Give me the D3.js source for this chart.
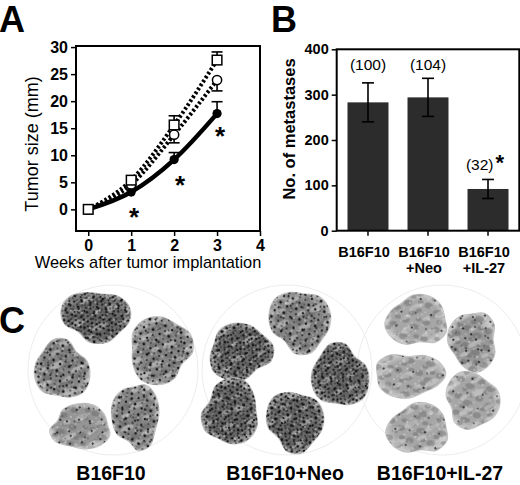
<!DOCTYPE html>
<html>
<head>
<meta charset="utf-8">
<script src="https://cdn.jsdelivr.net/npm/d3@7"></script>
<style>
  body { margin: 0; background: white; }
  text { font-family: 'Liberation Sans', Arial, Helvetica, sans-serif; }
</style>
</head>
<body>
<script>
// ---- panel A: tumour size over time ----
var weeks = [0, 1, 2, 3];
var sizeParental = [0, 5.4, 15.6, 27.6];
var sizeNeo = [0, 4.6, 13.8, 23.9];
var sizeIL27 = [0, 3.2, 9.2, 17.7];
var errParental = [0, 0, 1.7, 1.5];   // drawn upward
var errNeo = [0, 0, 1.5, 2.0];        // drawn downward
var errIL27 = [0, 0, 1.3, 2.2];       // drawn upward
var starWeek = [1.07, 2.14, 3.07];
var starSize = [-0.4, 5.4, 14.5];
var weekTicks = [0, 1, 2, 3, 4];
var sizeTicks = [0, 5, 10, 15, 20, 25, 30];

// ---- panel B: lung metastases ----
var groupLines = [['B16F10'], ['B16F10', '+Neo'], ['B16F10', '+IL-27']];
var metastases = [283, 294, 92];
var metastasesErr = [43, 42, 21];
var percentLabels = ['(100)', '(104)', '(32)'];
var percentAt = [355, 355, 133];
var metTicks = [0, 100, 200, 300, 400];

// ---- panel C: lung photographs (sketched) ----
var plateNames = ['B16F10', 'B16F10+Neo', 'B16F10+IL-27'];
var plateCx = [113, 287, 442];
// one row per lung: plate, x offset, y offset, rx, ry, rotation, load
var lungPlate = [0, 0, 0, 0, 0, 1, 1, 1, 1, 1, 2, 2, 2, 2, 2];
var lungDx = [-17, 47, -51, -32, 23, 13, -47, 53, -56, 8, -25, 31, -33, 30, -24];
var lungDy = [-54, -20, 0, 57, 46, -49, -18, 6, 42, 51, -49, -29, 5, 30, 59];
var lungRx = [34, 32, 27, 31, 23, 30, 32, 28, 29, 28, 30, 25, 34, 27, 30];
var lungRy = [26, 33, 30, 22, 34, 32, 28, 32, 32, 31, 26, 29, 23, 28, 26];
var lungRot = [0.2, 1.1, 2.3, 3.0, 4.1, 0.7, 1.9, 2.8, 3.6, 5.0, 0.4, 1.5, 2.6, 3.3, 4.6];
var lungLoad = ['heavy', 'medium', 'medium', 'light', 'medium',
                'medium', 'heavy', 'heavy', 'heavy', 'heavy',
                'sparse', 'some', 'sparse', 'sparse', 'sparse'];

var wW = 520;
var wH = 485;

// root svg canvas
var svg = d3.select('body').append('svg:svg')
  .attr('width', wW)
  .attr('height', wH);

var defs = svg.append('defs');

var panelLetter = (x, y, letter) => {
  svg.append('text')
    .attr('x', x)
    .attr('y', y)
    .attr('font-size', 36)
    .attr('font-weight', 'bold')
    .text(letter);
};

var styleAxis = (g, size) => {
  g.select('.domain').remove();
  g.selectAll('.tick line').attr('stroke', 'black').attr('stroke-width', 1.5);
  g.selectAll('.tick text')
    .attr('fill', 'black')
    .attr('font-size', size)
    .attr('font-weight', 'bold')
    .attr('font-family', "'Liberation Sans', Arial, sans-serif");
};

/**
 * Panel A
 */
var drawPanelA = () => {
  panelLetter(-1, 32, 'A');

  var x = d3.scaleLinear().domain([-0.285, 4]).range([76, 260]);
  var y = d3.scaleLinear().domain([-4, 30.2]).range([231, 46]);

  var gx = svg.append('g')
    .attr('transform', 'translate(0,' + y(-4) + ')')
    .call(d3.axisBottom(x).tickValues(weekTicks).tickSize(5).tickPadding(4).tickFormat(d3.format('d')));
  styleAxis(gx, 16);

  var gy = svg.append('g')
    .attr('transform', 'translate(' + x(-0.285) + ',0)')
    .call(d3.axisLeft(y).tickValues(sizeTicks).tickSize(5).tickPadding(3));
  styleAxis(gy, 16);

  svg.append('rect')
    .attr('x', x(-0.285))
    .attr('y', y(30.2))
    .attr('width', x(4) - x(-0.285))
    .attr('height', y(-4) - y(30.2))
    .attr('fill', 'none')
    .attr('stroke', 'black')
    .attr('stroke-width', 2);

  svg.append('text')
    .attr('transform', 'translate(38,144) rotate(-90)')
    .attr('text-anchor', 'middle')
    .attr('font-size', 18)
    .text('Tumor size (mm)');

  svg.append('text')
    .attr('x', 148)
    .attr('y', 268)
    .attr('text-anchor', 'middle')
    .attr('font-size', 16.4)
    .text('Weeks after tumor implantation');

  var line = d3.line()
    .x((d, i) => x(weeks[i]))
    .y(d => y(d))
    .curve(d3.curveMonotoneX);

  svg.append('path')
    .attr('d', line(sizeParental))
    .attr('fill', 'none')
    .attr('stroke', 'black')
    .attr('stroke-width', 4)
    .attr('stroke-dasharray', '2.5,2.2');

  svg.append('path')
    .attr('d', line(sizeNeo))
    .attr('fill', 'none')
    .attr('stroke', 'black')
    .attr('stroke-width', 4)
    .attr('stroke-dasharray', '2.5,2.2');

  svg.append('path')
    .attr('d', line(sizeIL27))
    .attr('fill', 'none')
    .attr('stroke', 'black')
    .attr('stroke-width', 4.5);

  // error bars (one-sided)
  var errorBar = (values, errs, sign) => {
    values.forEach((v, i) => {
      if (!errs[i]) return;
      var xc = x(weeks[i]);
      var yEnd = y(v + sign * errs[i]);
      svg.append('line')
        .attr('x1', xc).attr('x2', xc)
        .attr('y1', y(v)).attr('y2', yEnd)
        .attr('stroke', 'black').attr('stroke-width', 1.6);
      svg.append('line')
        .attr('x1', xc - 5.5).attr('x2', xc + 5.5)
        .attr('y1', yEnd).attr('y2', yEnd)
        .attr('stroke', 'black').attr('stroke-width', 1.6);
    });
  };
  errorBar(sizeParental, errParental, 1);
  errorBar(sizeNeo, errNeo, -1);
  errorBar(sizeIL27, errIL27, 1);

  // markers
  sizeIL27.forEach((v, i) => {
    svg.append('circle')
      .attr('cx', x(weeks[i])).attr('cy', y(v)).attr('r', 4.6)
      .attr('fill', 'black');
  });
  sizeNeo.forEach((v, i) => {
    svg.append('circle')
      .attr('cx', x(weeks[i])).attr('cy', y(v)).attr('r', 4.6)
      .attr('fill', 'white').attr('stroke', 'black').attr('stroke-width', 1.5);
  });
  sizeParental.forEach((v, i) => {
    svg.append('rect')
      .attr('x', x(weeks[i]) - 4.8).attr('y', y(v) - 4.8)
      .attr('width', 9.6).attr('height', 9.6)
      .attr('fill', 'white').attr('stroke', 'black').attr('stroke-width', 1.5);
  });

  // significance stars
  starWeek.forEach((w, i) => {
    svg.append('text')
      .attr('x', x(w))
      .attr('y', y(starSize[i]) + 14)
      .attr('text-anchor', 'middle')
      .attr('font-size', 26)
      .attr('font-weight', 'bold')
      .text('*');
  });
};

/**
 * Panel B
 */
var drawPanelB = () => {
  panelLetter(271, 32, 'B');

  var x = d3.scaleBand()
    .domain(d3.range(metastases.length))
    .range([336.7, 519.3])
    .paddingInner(0.317)
    .paddingOuter(0.18);
  var y = d3.scaleLinear().domain([0, 400]).range([230.7, 49.3]);

  var gy = svg.append('g')
    .attr('transform', 'translate(336.7,0)')
    .call(d3.axisLeft(y).tickValues(metTicks).tickSize(5).tickPadding(3));
  styleAxis(gy, 14.5);

  // bottom ticks at bar centres
  metastases.forEach((v, i) => {
    var xc = x(i) + x.bandwidth() / 2;
    svg.append('line')
      .attr('x1', xc).attr('x2', xc)
      .attr('y1', y(0)).attr('y2', y(0) + 5)
      .attr('stroke', 'black').attr('stroke-width', 1.5);
    groupLines[i].forEach((t, j) => {
      svg.append('text')
        .attr('x', xc - 4)
        .attr('y', 256.5 + j * 16.5)
        .attr('text-anchor', 'middle')
        .attr('font-size', 14.5)
        .attr('font-weight', 'bold')
        .text(t);
    });
  });

  svg.selectAll('rect.bar')
    .data(metastases)
    .enter().append('rect')
    .attr('class', 'bar')
    .attr('x', (d, i) => x(i))
    .attr('y', d => y(d))
    .attr('width', x.bandwidth())
    .attr('height', d => y(0) - y(d))
    .attr('fill', '#2c2c2c');

  metastases.forEach((v, i) => {
    var xc = x(i) + x.bandwidth() / 2;
    var lo = y(v - metastasesErr[i]);
    var hi = y(v + metastasesErr[i]);
    svg.append('line')
      .attr('x1', xc).attr('x2', xc).attr('y1', lo).attr('y2', hi)
      .attr('stroke', 'black').attr('stroke-width', 1.6);
    [lo, hi].forEach((yy) => {
      svg.append('line')
        .attr('x1', xc - 6).attr('x2', xc + 6).attr('y1', yy).attr('y2', yy)
        .attr('stroke', 'black').attr('stroke-width', 1.6);
    });

    var label = svg.append('text')
      .attr('x', xc - (i == 2 ? 3 : 0))
      .attr('y', y(percentAt[i]))
      .attr('text-anchor', 'middle')
      .attr('font-size', 15.5);
    label.append('tspan').text(percentLabels[i]);
    if (i == 2) {
      label.append('tspan')
        .attr('dx', 2)
        .attr('font-size', 22)
        .attr('font-weight', 'bold')
        .text('*');
    }
  });

  svg.append('rect')
    .attr('x', 336.7)
    .attr('y', y(400))
    .attr('width', 519.3 - 336.7)
    .attr('height', y(0) - y(400))
    .attr('fill', 'none')
    .attr('stroke', 'black')
    .attr('stroke-width', 2);

  svg.append('text')
    .attr('transform', 'translate(295,129) rotate(-90)')
    .attr('text-anchor', 'middle')
    .attr('font-size', 16.5)
    .attr('font-weight', 'bold')
    .text('No. of metastases');
};

/**
 * Panel C: textures for the lung sketches
 */
var makePatterns = () => {
  var spots = (id, w, h, rot, dots, colour) => {
    var p = defs.append('pattern')
      .attr('id', id)
      .attr('patternUnits', 'userSpaceOnUse')
      .attr('patternTransform', 'rotate(' + rot + ')')
      .attr('width', w).attr('height', h);
    dots.forEach((d) => {
      p.append('circle')
        .attr('cx', d[0]).attr('cy', d[1]).attr('r', d[2])
        .attr('fill', colour);
    });
  };
  spots('spotsA', 9, 8, 23, [[1.5, 2, 1.1], [6, 1, 0.8], [4, 5.5, 1.3], [8, 6, 0.7], [2, 7, 0.6]], '#111');
  spots('spotsB', 13, 11, -17, [[3, 3, 1.2], [9, 2, 0.9], [11, 8, 1.4], [5, 9, 0.8], [7, 6, 0.6]], '#151515');
  spots('spotsC', 17, 15, 41, [[4, 4, 1.0], [12, 10, 0.9], [14, 3, 0.6]], '#111');
  spots('spotsD', 23, 19, -33, [[6, 5, 0.9], [17, 14, 0.8]], '#111');
  spots('glint', 11, 13, 12, [[2, 3, 0.7], [8, 9, 0.6], [5, 12, 0.5]], '#f0f0f0');

  var blotch = (id, w, h, rot, shapes, colour, op) => {
    var p = defs.append('pattern')
      .attr('id', id)
      .attr('patternUnits', 'userSpaceOnUse')
      .attr('patternTransform', 'rotate(' + rot + ')')
      .attr('width', w).attr('height', h);
    shapes.forEach((e) => {
      p.append('ellipse')
        .attr('cx', e[0]).attr('cy', e[1]).attr('rx', e[2]).attr('ry', e[3])
        .attr('fill', colour).attr('opacity', op);
    });
  };
  blotch('mottle', 21, 17, 8, [[5, 5, 4, 3], [15, 11, 5, 3], [10, 15, 3, 2], [18, 3, 3, 2]], '#555', 0.35);
  blotch('pale', 37, 29, -25, [[8, 7, 7, 3], [26, 19, 8, 2.5], [30, 5, 4, 2], [12, 24, 5, 2]], '#dadada', 0.45);

  var grad = (id, inner, outer) => {
    var g = defs.append('radialGradient').attr('id', id);
    g.append('stop').attr('offset', '0%').attr('stop-color', inner);
    g.append('stop').attr('offset', '75%').attr('stop-color', inner);
    g.append('stop').attr('offset', '100%').attr('stop-color', outer);
  };
  grad('g-heavy', '#6a6a6a', '#9a9a9a');
  grad('g-medium', '#858585', '#adadad');
  grad('g-light', '#959595', '#b8b8b8');
  grad('g-some', '#979797', '#bdbdbd');
  grad('g-sparse', '#a6a6a6', '#c6c6c6');
};

var lungLayers = {
  heavy: ['mottle', 'pale', 'spotsA', 'spotsB', 'glint'],
  medium: ['mottle', 'pale', 'spotsB', 'spotsC', 'glint'],
  light: ['mottle', 'pale', 'spotsC', 'spotsD', 'glint'],
  some: ['mottle', 'pale', 'spotsC', 'spotsD', 'glint'],
  sparse: ['mottle', 'pale', 'spotsD', 'glint']
};

// irregular outline: one radius factor per outline point
var lobeProfile = [1, 0.93, 1.06, 1.02, 0.8, 0.97, 1.05, 1.08, 0.95, 0.86, 1.0, 1.04];

var drawPanelC = () => {
  makePatterns();
  panelLetter(-1, 333, 'C');

  // faint culture dishes
  plateCx.forEach((cx) => {
    svg.append('circle')
      .attr('cx', cx).attr('cy', 370).attr('r', 85)
      .attr('fill', 'none')
      .attr('stroke', '#ededed')
      .attr('stroke-width', 1);
  });

  var lungLine = d3.line().curve(d3.curveCatmullRomClosed.alpha(0.5));
  var n = lobeProfile.length;

  lungPlate.forEach((p, i) => {
    var cx = plateCx[p] + lungDx[i];
    var cy = 370 + lungDy[i];
    var pts = lobeProfile.map((r0, k) => {
      var r = lobeProfile[(k + i * 5) % n];
      var a = k / n * 2 * Math.PI + lungRot[i];
      return [cx + lungRx[i] * r * Math.cos(a), cy + lungRy[i] * r * Math.sin(a)];
    });
    var d = lungLine(pts);

    svg.append('path')
      .attr('d', d)
      .attr('fill', 'url(#g-' + lungLoad[i] + ')')
      .attr('stroke', '#c4c4c4')
      .attr('stroke-width', 1.2);

    lungLayers[lungLoad[i]].forEach((layer) => {
      svg.append('path')
        .attr('d', d)
        .attr('fill', 'url(#' + layer + ')');
    });
  });

  plateNames.forEach((name, i) => {
    svg.append('text')
      .attr('x', plateCx[i] - 2)
      .attr('y', 480)
      .attr('text-anchor', 'middle')
      .attr('font-size', 19.5)
      .attr('font-weight', 'bold')
      .text(name);
  });
};

drawPanelA();
drawPanelB();
drawPanelC();
</script>
</body>
</html>
